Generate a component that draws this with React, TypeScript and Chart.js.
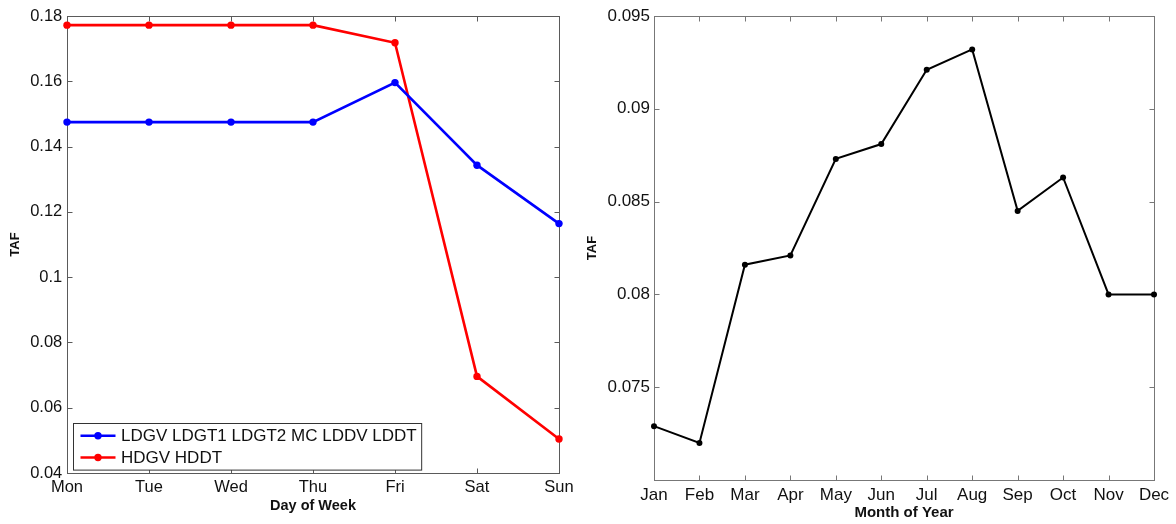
import React, { useEffect, useRef } from "react";
import { Chart, registerables } from "chart.js";

Chart.register(...registerables);

// ---------- data ----------
const days = ["Mon", "Tue", "Wed", "Thu", "Fri", "Sat", "Sun"];
const lightDutyLabel = "LDGV LDGT1 LDGT2 MC LDDV LDDT";
const lightDutyTaf = [0.1475, 0.1475, 0.1475, 0.1475, 0.1596, 0.1343, 0.1164];
const heavyDutyLabel = "HDGV HDDT";
const heavyDutyTaf = [0.1772, 0.1772, 0.1772, 0.1772, 0.1718, 0.0696, 0.0504];
const weekYTicks = [0.04, 0.06, 0.08, 0.1, 0.12, 0.14, 0.16, 0.18];
const weekYTickLabels = ["0.04", "0.06", "0.08", "0.1", "0.12", "0.14", "0.16", "0.18"];

const months = ["Jan", "Feb", "Mar", "Apr", "May", "Jun", "Jul", "Aug", "Sep", "Oct", "Nov", "Dec"];
const monthTaf = [0.0729, 0.072, 0.0816, 0.0821, 0.0873, 0.0881, 0.0921, 0.0932, 0.0845, 0.0863, 0.08, 0.08];
const monthYTicks = [0.075, 0.08, 0.085, 0.09, 0.095];
const monthYTickLabels = ["0.075", "0.08", "0.085", "0.09", "0.095"];

const FONT = "'Liberation Sans', Arial, Helvetica, sans-serif";

// ---------- plugins ----------
const framePlugin = {
  id: "matlabFrame",
  beforeDatasetsDraw(chart: any, _args: any, opts: any) {
    const { ctx, chartArea } = chart;
    const left = Math.round(chartArea.left) + 0.5;
    const right = Math.round(chartArea.right) + 0.5;
    const top = Math.round(chartArea.top) + 0.5;
    const bottom = Math.round(chartArea.bottom) + 0.5;
    const xs = chart.scales.x;
    const ys = chart.scales.y;
    const len = opts.tickLen ?? 5;
    ctx.save();
    ctx.strokeStyle = opts.color || "#555";
    ctx.lineWidth = 1;
    ctx.strokeRect(left, top, right - left, bottom - top);
    ctx.beginPath();
    xs.ticks.forEach((_t: any, i: number) => {
      const px = Math.round(xs.getPixelForTick(i)) + 0.5;
      ctx.moveTo(px, bottom);
      ctx.lineTo(px, bottom - len);
      ctx.moveTo(px, top);
      ctx.lineTo(px, top + len);
    });
    ys.ticks.forEach((_t: any, i: number) => {
      const py = Math.round(ys.getPixelForTick(i)) + 0.5;
      ctx.moveTo(left, py);
      ctx.lineTo(left + len, py);
      ctx.moveTo(right, py);
      ctx.lineTo(right - len, py);
    });
    ctx.stroke();
    ctx.restore();
  },
};

const boxLegendPlugin = {
  id: "boxLegend",
  afterDraw(chart: any, _args: any, opts: any) {
    if (!opts || !opts.display) return;
    const { ctx, chartArea } = chart;
    const ds = chart.data.datasets;
    ctx.save();
    ctx.font = opts.font;
    const textW = Math.max(...ds.map((d: any) => ctx.measureText(d.label).width));
    const rowH = 21.7;
    const h = 46.6;
    const w = 47.5 + textW + 5;
    const bx = Math.round(chartArea.left + 5.7) + 0.5;
    const by = Math.round(chartArea.bottom - 3.7 - h) + 0.5;
    ctx.fillStyle = "#ffffff";
    ctx.fillRect(bx, by, w, h);
    ctx.strokeStyle = "#333333";
    ctx.lineWidth = 1;
    ctx.strokeRect(bx, by, w, h);
    ds.forEach((d: any, i: number) => {
      const cy = by + 12.3 + i * rowH;
      ctx.strokeStyle = d.borderColor;
      ctx.lineWidth = d.borderWidth;
      ctx.beginPath();
      ctx.moveTo(bx + 7, cy);
      ctx.lineTo(bx + 42, cy);
      ctx.stroke();
      ctx.fillStyle = d.pointBackgroundColor;
      ctx.beginPath();
      ctx.arc(bx + 24.5, cy, d.pointRadius, 0, Math.PI * 2);
      ctx.fill();
      ctx.fillStyle = "#111111";
      ctx.textBaseline = "middle";
      ctx.textAlign = "left";
      ctx.fillText(d.label, bx + 47.5, cy + 1);
    });
    ctx.restore();
  },
};

type PanelProps = {
  width: number;
  height: number;
  labels: string[];
  datasets: any[];
  yMin: number;
  yMax: number;
  yTicks: number[];
  yTickLabels: string[];
  yAxisWidth: number;
  xAxisHeight: number;
  padRight: number;
  tickFont: number;
  xTitle: string;
  xTitleFont: number;
  xTitlePad: number;
  yTitlePad: number;
  xTickPad: number;
  yTickPad: number;
  frameColor: string;
  legend: boolean;
};

function Panel(p: PanelProps) {
  const ref = useRef<HTMLCanvasElement | null>(null);
  useEffect(() => {
    if (!ref.current) return;
    const chart = new Chart(ref.current, {
      type: "line",
      data: { labels: p.labels, datasets: p.datasets },
      plugins: [framePlugin, boxLegendPlugin],
      options: {
        animation: false,
        responsive: false,
        maintainAspectRatio: false,
        layout: { padding: { top: 16, right: p.padRight, left: 0, bottom: 0 } },
        plugins: {
          legend: { display: false },
          tooltip: { enabled: false },
          matlabFrame: { color: p.frameColor, tickLen: 5 },
          boxLegend: { display: p.legend, font: `17px ${FONT}` },
        } as any,
        scales: {
          x: {
            type: "category",
            offset: false,
            grid: { display: false, drawTicks: false, tickLength: 0 },
            border: { display: false },
            ticks: {
              color: "#111",
              padding: p.xTickPad,
              maxRotation: 0,
              autoSkip: false,
              font: { family: FONT, size: p.tickFont },
            },
            title: {
              display: true,
              text: p.xTitle,
              color: "#111",
              font: { family: FONT, size: p.xTitleFont, weight: "bold" },
              padding: { top: 0, bottom: p.xTitlePad },
            },
            afterFit: (s: any) => {
              s.height = p.xAxisHeight;
            },
          },
          y: {
            type: "linear",
            min: p.yMin,
            max: p.yMax,
            grid: { display: false, drawTicks: false, tickLength: 0 },
            border: { display: false },
            afterBuildTicks: (s: any) => {
              s.ticks = p.yTicks.map((v) => ({ value: v }));
            },
            ticks: {
              color: "#111",
              padding: p.yTickPad,
              font: { family: FONT, size: p.tickFont },
              callback: (_v: any, i: number) => p.yTickLabels[i],
            },
            title: {
              display: true,
              text: "TAF",
              color: "#111",
              font: { family: FONT, size: 13, weight: "bold" },
              padding: { top: p.yTitlePad, bottom: 0 },
            },
            afterFit: (s: any) => {
              s.width = p.yAxisWidth;
            },
          },
        },
      } as any,
    });
    return () => chart.destroy();
  }, []);
  return <canvas ref={ref} width={p.width} height={p.height} style={{ display: "block" }} />;
}

export default function App() {
  const weekDatasets = [
    {
      label: lightDutyLabel,
      data: lightDutyTaf,
      borderColor: "#0000ff",
      backgroundColor: "#0000ff",
      pointBackgroundColor: "#0000ff",
      pointBorderColor: "#0000ff",
      borderWidth: 2.6,
      pointRadius: 3.7,
      pointBorderWidth: 0,
      tension: 0,
      clip: false,
    },
    {
      label: heavyDutyLabel,
      data: heavyDutyTaf,
      borderColor: "#ff0000",
      backgroundColor: "#ff0000",
      pointBackgroundColor: "#ff0000",
      pointBorderColor: "#ff0000",
      borderWidth: 2.6,
      pointRadius: 3.7,
      pointBorderWidth: 0,
      tension: 0,
      clip: false,
    },
  ];
  const monthDatasets = [
    {
      label: "TAF",
      data: monthTaf,
      borderColor: "#000000",
      backgroundColor: "#000000",
      pointBackgroundColor: "#000000",
      pointBorderColor: "#000000",
      borderWidth: 2,
      pointRadius: 3,
      pointBorderWidth: 0,
      tension: 0,
      clip: false,
    },
  ];
  return (
    <div
      style={{
        position: "fixed",
        left: 0,
        top: 0,
        width: 1176,
        height: 524,
        background: "#ffffff",
      }}
    >
      <div style={{ position: "absolute", left: 0, top: 0 }}>
        <Panel
          width={580}
          height={524}
          labels={days}
          datasets={weekDatasets}
          yMin={0.04}
          yMax={0.18}
          yTicks={weekYTicks}
          yTickLabels={weekYTickLabels}
          yAxisWidth={67}
          xAxisHeight={51}
          padRight={21}
          tickFont={16.5}
          xTitle="Day of Week"
          xTitleFont={14.5}
          xTitlePad={9.8}
          yTitlePad={7.2}
          xTickPad={5}
          yTickPad={4.7}
          frameColor="#5a5a5a"
          legend={true}
        />
      </div>
      <div style={{ position: "absolute", left: 580, top: 0 }}>
        <Panel
          width={596}
          height={524}
          labels={months}
          datasets={monthDatasets}
          yMin={0.07}
          yMax={0.095}
          yTicks={monthYTicks}
          yTickLabels={monthYTickLabels}
          yAxisWidth={74}
          xAxisHeight={44}
          padRight={22}
          tickFont={17}
          xTitle="Month of Year"
          xTitleFont={15}
          xTitlePad={2.5}
          yTitlePad={4.2}
          xTickPad={4.7}
          yTickPad={4}
          frameColor="#777777"
          legend={false}
        />
      </div>
    </div>
  );
}
